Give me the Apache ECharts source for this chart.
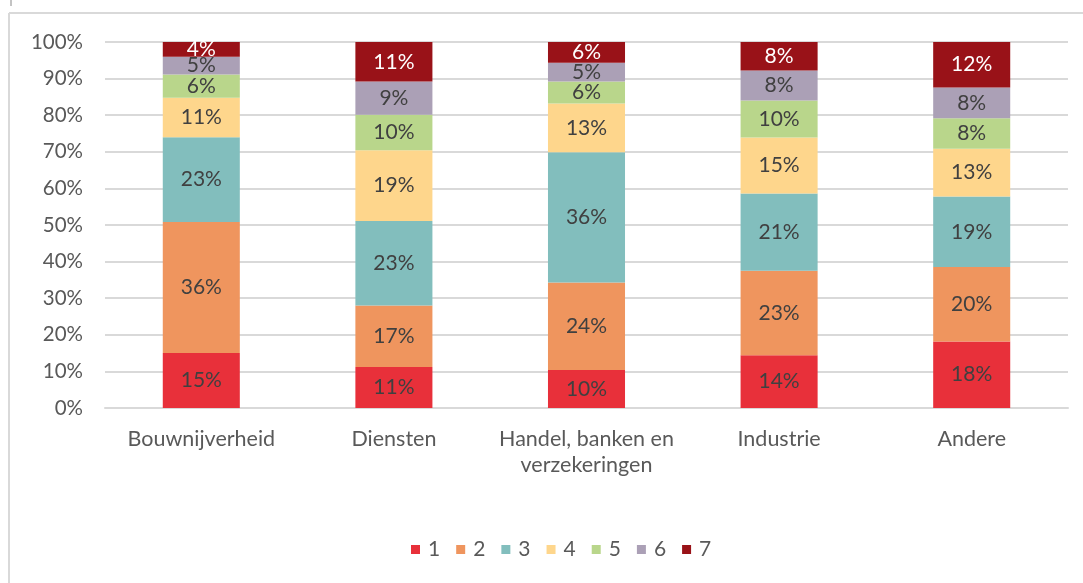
<!DOCTYPE html>
<html>
<head>
<meta charset="utf-8">
<script src="https://cdn.jsdelivr.net/npm/echarts@6/dist/echarts.min.js"></script>
<style>
  html, body { margin: 0; padding: 0; background: #fff; }
  #chart { width: 1083px; height: 583px; }
</style>
</head>
<body>
<div id="chart"></div>
<script>
var categories = ['Bouwnijverheid', 'Diensten', 'Handel, banken en\nverzekeringen', 'Industrie', 'Andere'];
var seriesNames = ['1', '2', '3', '4', '5', '6', '7'];

// aandeel per categorie (%), per score 1..7
var s1 = [15.0, 11.2, 10.4, 14.4, 18.2];
var s2 = [35.8, 16.8, 23.9, 23.1, 20.3];
var s3 = [23.2, 23.1, 35.6, 21.1, 19.3];
var s4 = [10.8, 19.3, 13.3, 15.3, 13.0];
var s5 = [6.3, 9.7, 6.0, 10.1, 8.4];
var s6 = [4.9, 9.1, 5.1, 8.2, 8.4];
var s7 = [4.0, 10.8, 5.7, 7.8, 12.4];

var yTicks = [0, 10, 20, 30, 40, 50, 60, 70, 80, 90, 100];

var colors = ['#E8303A', '#EF955E', '#82BEBD', '#FED68C', '#B9D68B', '#ABA0B6', '#991218'];
var allData = [s1, s2, s3, s4, s5, s6, s7];

var myChart = echarts.init(document.getElementById('chart'));

var font = 'Lato, "Open Sans", sans-serif';

var series = [];
for (var i = 0; i < allData.length; i++) {
    series.push({
        name: seriesNames[i],
        type: 'bar',
        stack: 'total',
        barWidth: '40%',
        data: allData[i],
        itemStyle: { color: colors[i] },
        label: {
            show: true,
            position: 'inside',
            fontFamily: font,
            fontSize: 21,
            color: i === 6 ? '#ffffff' : '#404040',
            formatter: function (p) { return Math.round(p.value) + '%'; }
        },
        emphasis: { disabled: true }
    });
}

var option = {
    backgroundColor: '#ffffff',
    animation: false,
    color: colors,
    grid: { left: 105, right: 15, top: 42, bottom: 175, containLabel: false },
    legend: {
        data: seriesNames,
        bottom: 18,
        left: 406,
        icon: 'rect',
        itemWidth: 9,
        itemHeight: 9,
        itemGap: 16,
        textStyle: { fontFamily: font, fontSize: 21, color: '#595959', padding: [0, 0, 0, 3] }
    },
    xAxis: {
        type: 'category',
        data: categories,
        axisLine: { lineStyle: { color: '#D9D9D9', width: 2 } },
        axisTick: { show: false },
        axisLabel: {
            fontFamily: font,
            fontSize: 21.5,
            color: '#595959',
            margin: 18,
            lineHeight: 26,
            interval: 0
        }
    },
    yAxis: {
        type: 'value',
        min: yTicks[0],
        max: yTicks[yTicks.length - 1],
        interval: 10,
        axisLine: { show: false },
        axisTick: { show: false },
        splitLine: { lineStyle: { color: '#D9D9D9', width: 2 } },
        axisLabel: {
            fontFamily: font,
            fontSize: 20.5,
            color: '#595959',
            margin: 22,
            formatter: '{value}%'
        }
    },
    graphic: [
        { type: 'line', shape: { x1: 9, y1: 13, x2: 1083, y2: 13 }, style: { stroke: '#D9D9D9', lineWidth: 2 } },
        { type: 'line', shape: { x1: 9, y1: 13, x2: 9, y2: 583 }, style: { stroke: '#D9D9D9', lineWidth: 2 } },
        { type: 'line', shape: { x1: 11, y1: 0, x2: 11, y2: 6 }, style: { stroke: '#888888', lineWidth: 1 } }
    ],
    series: series
};

myChart.setOption(option);
</script>
</body>
</html>
